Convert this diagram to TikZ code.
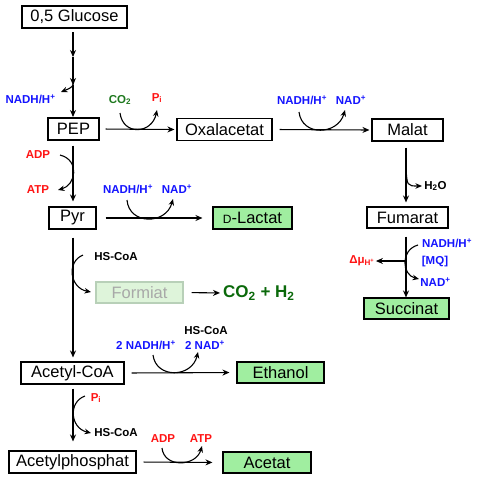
\documentclass[tikz,border=0pt]{standalone}
\usepackage{fontspec}
\setmainfont{Liberation Sans}
\usetikzlibrary{arrows.meta}
\definecolor{boxgreen}{RGB}{160,238,160}
\definecolor{palegreen}{RGB}{222,244,218}
\definecolor{paleedge}{RGB}{184,208,184}
\definecolor{paletext}{RGB}{168,168,168}
\definecolor{cblue}{RGB}{20,20,255}
\definecolor{cred}{RGB}{255,20,20}
\definecolor{cgreen}{RGB}{30,120,30}
\definecolor{dgreen}{RGB}{10,105,10}
\begin{document}
\begin{tikzpicture}[x=1pt,y=-1pt,
  every node/.style={inner sep=0pt},
  box/.style={draw=black,line width=1.1pt,fill=white,minimum height=22pt,font=\fontsize{16.5}{18}\selectfont},
  prodbox/.style={box,fill=boxgreen},
  palebox/.style={box,fill=palegreen,draw=paleedge,text=paletext},
  lbl/.style={font=\fontsize{11.5}{13}\selectfont\bfseries},
  blu/.style={lbl,text=cblue},
  rd/.style={lbl,text=cred},
  grn/.style={lbl,text=cgreen},
  blk/.style={lbl,text=black},
  conn/.style={line width=1.1pt,-{Stealth[length=7pt,width=6pt]}},
  side/.style={line width=1.1pt,-{Stealth[length=6.5pt,width=5.5pt]}}]
\useasboundingbox (0,0) rectangle (479,480);
% boxes
\node[box,minimum width=105pt] (gluc) at (74.5,17) {0,5 Glucose};
\node[box,minimum width=51pt] (pep) at (73.5,129) {PEP};
\node[box,minimum width=95pt] (oxa) at (224.5,129.5) {Oxalacetat};
\node[box,minimum width=71pt] (mal) at (407.5,130) {Malat};
\node[box,minimum width=81pt,minimum height=21pt] (fum) at (407.5,217.5) {Fumarat};
\node[prodbox,minimum width=85pt,minimum height=21pt] (succ) at (406.5,308.5) {Succinat};
\node[box,minimum width=47pt] (pyr) at (72.5,218) {Pyr};
\node[prodbox,minimum width=79pt] (lact) at (252.5,218) {{\fontsize{12}{14}\selectfont D}-Lactat};
\node[palebox,minimum width=87pt,minimum height=21pt] (form) at (139.5,292.5) {Formiat};
\node[font=\fontsize{17}{19}\selectfont\bfseries,text=dgreen,anchor=west] (co2h2) at (223,293) {CO\textsubscript{2} + H\textsubscript{2}};
\node[box,minimum width=103pt] (acoa) at (72.5,373) {Acetyl-CoA};
\node[prodbox,minimum width=87pt,minimum height=21pt] (eth) at (280.5,372.5) {Ethanol};
\node[box,minimum width=127pt] (aphos) at (72.5,462) {Acetylphosphat};
\node[prodbox,minimum width=88pt,minimum height=21pt] (acet) at (267,462.5) {Acetat};
% labels
\node[blu] (n1) at (30.5,99) {NADH/H\textsuperscript{+}};
\node[grn] (co2) at (120,100) {CO\textsubscript{2}};
\node[rd] (pi1) at (157,98) {P\textsubscript{i}};
\node[blu] (n2) at (302,100) {NADH/H\textsuperscript{+}};
\node[blu] (nad2) at (351,100) {NAD\textsuperscript{+}};
\node[blk] (h2o) at (435.5,186) {H\textsubscript{2}O};
\node[rd] (adp1) at (38,155) {ADP};
\node[rd] (atp1) at (38,190) {ATP};
\node[blu] (n3) at (128,189) {NADH/H\textsuperscript{+}};
\node[blu] (nad3) at (177,189) {NAD\textsuperscript{+}};
\node[blk] (hs1) at (116,257) {HS-CoA};
\node[blu] (n4) at (146,345) {2 NADH/H\textsuperscript{+}};
\node[blu] (nad4) at (205,345) {2 NAD\textsuperscript{+}};
\node[blk] (hs2) at (206,331) {HS-CoA};
\node[rd] (pi2) at (96,398) {P\textsubscript{i}};
\node[blk] (hs3) at (116,433) {HS-CoA};
\node[rd] (adp2) at (163,439) {ADP};
\node[rd] (atp2) at (201,439) {ATP};
\node[rd] (dmu) at (362,261) {Δμ\textsubscript{H\textsuperscript{+}}};
\node[blu] (n5) at (447,243) {NADH/H\textsuperscript{+}};
\node[blu] (mq) at (435,262) {[MQ]};
\node[blu] (nad5) at (435.5,282) {NAD\textsuperscript{+}};
% coordinates on the main line
\coordinate (g0) at (73,32);
\coordinate (g1) at (73,57);
\coordinate (g2) at (73,85);
\coordinate (g3) at (73,117);
\coordinate (fj) at (406,261);
% main connectors
\draw[conn] (g0) -- (g1);
\draw[conn] (g1) -- (g2);
\draw[conn] (g2) -- (g3);
\draw[conn,shorten <=6pt,shorten >=2pt] (pep.east) -- (oxa.west);
\draw[conn,shorten <=7pt,shorten >=2pt] (oxa.east) -- (mal.west);
\draw[conn,shorten <=6pt,shorten >=4pt] (mal.south -| 406,0) -- (fum.north -| 406,0);
\draw[conn,shorten <=8pt,shorten >=0pt] (fum.south -| 406,0) -- (succ.north -| 406,0);
\draw[conn,shorten >=1pt] (fj) -- (dmu.east);
\draw[conn,shorten <=5pt,shorten >=5pt] (pep.south -| 73,0) -- (pyr.north -| 73,0);
\draw[conn,shorten <=9pt,shorten >=10pt] (pyr.east) -- (lact.west);
\draw[conn,shorten <=8pt,shorten >=4pt] (pyr.south -| 73,0) -- (acoa.north -| 73,0);
\draw[conn,shorten <=8pt,shorten >=3pt] (form.east) -- (co2h2.west);
\draw[conn,shorten <=7pt,shorten >=7pt] (acoa.east) -- (eth.west);
\draw[conn,shorten <=4pt,shorten >=9pt] (acoa.south -| 73,0) -- (aphos.north -| 73,0);
\draw[conn,shorten <=7pt,shorten >=10pt] (aphos.east) -- (acet.west);
% side curves
\coordinate (s1a) at (74,79); \coordinate (s1b) at (61,92);
\draw[side] (s1a) .. controls (73,87) .. (s1b);
\coordinate (s2a) at (120,113); \coordinate (s2b) at (157,110);
\draw[side] (s2a) .. controls (123,136) and (152,134) .. (s2b);
\coordinate (s3a) at (299,112); \coordinate (s3b) at (345,110);
\draw[side] (s3a) .. controls (302,137) and (338,135) .. (s3b);
\coordinate (s4a) at (406,167); \coordinate (s4b) at (422,186);
\draw[side] (s4a) .. controls (407,186) .. (s4b);
\coordinate (s5a) at (60,155); \coordinate (s5b) at (58,190);
\draw[side] (s5a) .. controls (80,160) and (76,185) .. (s5b);
\coordinate (s6a) at (127,200); \coordinate (s6b) at (173,199);
\draw[side] (s6a) .. controls (129,225) and (166,225) .. (s6b);
\coordinate (s7a) at (83,255); \coordinate (s7b) at (91,292);
\draw[side] (s7a) .. controls (66,262) and (70,288) .. (s7b);
\coordinate (s8a) at (153,355); \coordinate (s8b) at (198,352);
\draw[side] (s8a) .. controls (156,379) and (192,378) .. (s8b);
\coordinate (s9a) at (85,396); \coordinate (s9b) at (91,433);
\draw[side] (s9a) .. controls (68,402) and (70,428) .. (s9b);
\coordinate (s10a) at (162,448); \coordinate (s10b) at (202,446);
\draw[side] (s10a) .. controls (164,468) and (196,467) .. (s10b);
\coordinate (s11a) at (418,245); \coordinate (s11b) at (419,279);
\draw[side] (s11a) .. controls (400,250) and (402,275) .. (s11b);
\end{tikzpicture}
\end{document}
